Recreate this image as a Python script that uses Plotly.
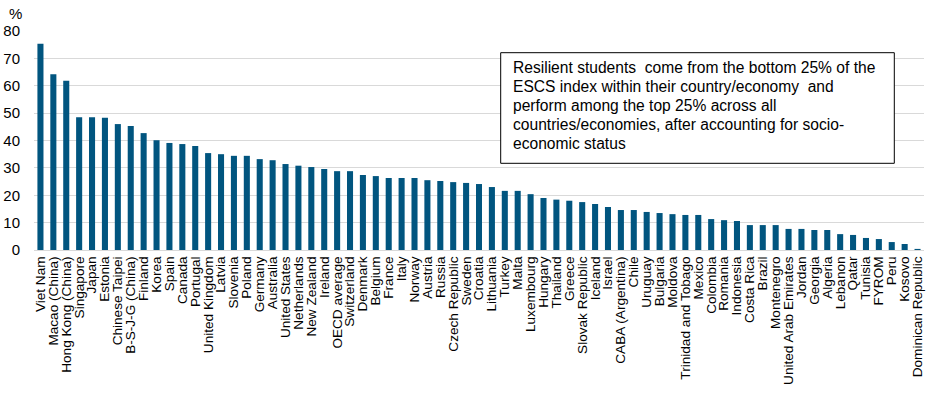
import plotly.graph_objects as go

countries = [
    "Viet Nam", "Macao (China)", "Hong Kong (China)", "Singapore", "Japan", "Estonia",
    "Chinese Taipei", "B-S-J-G (China)", "Finland", "Korea", "Spain", "Canada", "Portugal",
    "United Kingdom", "Latvia", "Slovenia", "Poland", "Germany", "Australia", "United States",
    "Netherlands", "New Zealand", "Ireland", "OECD average", "Switzerland", "Denmark",
    "Belgium", "France", "Italy", "Norway", "Austria", "Russia", "Czech Republic", "Sweden",
    "Croatia", "Lithuania", "Turkey", "Malta", "Luxembourg", "Hungary", "Thailand", "Greece",
    "Slovak Republic", "Iceland", "Israel", "CABA (Argentina)", "Chile", "Uruguay", "Bulgaria",
    "Moldova", "Trinidad and Tobago", "Mexico", "Colombia", "Romania", "Indonesia",
    "Costa Rica", "Brazil", "Montenegro", "United Arab Emirates", "Jordan", "Georgia",
    "Algeria", "Lebanon", "Qatar", "Tunisia", "FYROM", "Peru", "Kosovo", "Dominican Republic",
]

resilient_pct = [
    75.3, 64.2, 61.8, 48.5, 48.5, 48.3,
    46.0, 45.3, 42.7, 40.1, 39.1, 38.7, 38.0,
    35.4, 35.0, 34.4, 34.4, 33.2, 32.8, 31.4,
    30.8, 30.3, 29.6, 28.8, 28.8, 27.4,
    27.0, 26.3, 26.3, 26.3, 25.5, 25.2, 24.8, 24.5,
    24.1, 23.0, 21.6, 21.6, 20.4, 19.0, 18.4, 18.0,
    17.5, 16.8, 15.7, 14.6, 14.6, 13.9, 13.5,
    13.1, 12.8, 12.8, 11.3, 10.9, 10.6,
    9.1, 9.1, 9.1, 7.7, 7.7, 7.3,
    7.3, 5.8, 5.5, 4.4, 4.0, 2.9, 2.2, 0.4,
]

y_ticks = [0, 10, 20, 30, 40, 50, 60, 70, 80]

note_lines = [
    "Resilient students  come from the bottom 25% of the",
    "ESCS index within their country/economy  and",
    "perform among the top 25% across all",
    "countries/economies, after accounting for socio-",
    "economic status",
]

FONT = "Arial, Liberation Sans, sans-serif"

# plot area in pixels (for placing the note box)
PL, PR, PT, PB = 34, 924, 31, 250
PW, PH = PR - PL, PB - PT

def px_x(x):
    return (x - PL) / PW

def px_y(y):
    return (PB - y) / PH

fig = go.Figure()
fig.add_trace(go.Bar(
    x=countries,
    y=resilient_pct,
    marker=dict(color="#01557F", line=dict(width=0)),
    width=0.47,
))

line_y = [67.3, 86.5, 105.5, 124.5, 143.5]
annotations = [
    dict(text=t, xref="paper", yref="paper", x=px_x(510.5), y=px_y(yy),
         xanchor="left", yanchor="middle", align="left", showarrow=False,
         font=dict(size=15.6, family=FONT, color="black"))
    for t, yy in zip(note_lines, line_y)
]
annotations.append(dict(
    text="%", xref="paper", yref="paper", x=px_x(6.5), y=px_y(13.5),
    xanchor="left", yanchor="middle", showarrow=False,
    font=dict(size=15, family=FONT, color="black")))

fig.update_layout(
    width=939, height=400,
    margin=dict(l=PL, r=939 - PR, t=PT, b=400 - PB, autoexpand=False),
    plot_bgcolor="white", paper_bgcolor="white",
    showlegend=False,
    font=dict(family=FONT, color="black"),
    xaxis=dict(
        tickmode="array", tickvals=countries, ticktext=countries,
        tickangle=-90,
        tickfont=dict(size=13.6, family=FONT, color="black"),
        showgrid=False,
        showline=True, linecolor="#d9d9d9", linewidth=1,
        ticks="",
        automargin=False,
        range=[-0.5, len(countries) - 0.5],
    ),
    yaxis=dict(
        range=[0, 80],
        tickvals=y_ticks,
        tickfont=dict(size=15, family=FONT, color="black"),
        showgrid=True, gridcolor="#d9d9d9", gridwidth=1,
        zeroline=False,
        showline=False,
        ticks="",
        automargin=False,
        ticklabelstandoff=13,
    ),
    shapes=[dict(
        type="rect", xref="paper", yref="paper",
        x0=px_x(500.7), x1=px_x(894.3),
        y0=px_y(163.3), y1=px_y(52.7),
        line=dict(color="black", width=1), fillcolor="white", layer="above",
    )],
    annotations=annotations,
)

fig.write_html(
    "out.html",
    config={"displayModeBar": False, "staticPlot": True},
    post_script="document.body.style.margin='0';document.body.style.padding='0';",
)
